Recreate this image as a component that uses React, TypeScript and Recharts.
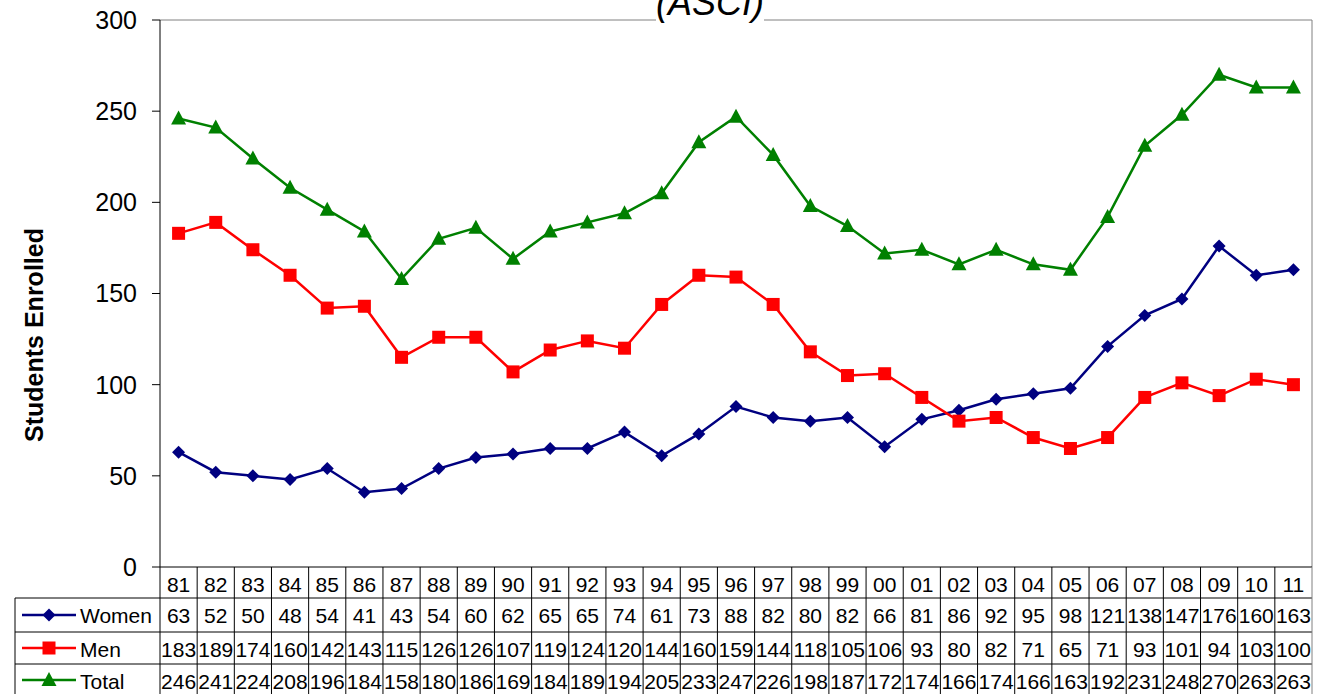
import React from 'react';
import { LineChart, Line, XAxis, YAxis, ReferenceLine } from 'recharts';

const years = ['81', '82', '83', '84', '85', '86', '87', '88', '89', '90', '91', '92', '93', '94', '95', '96', '97', '98', '99', '00', '01', '02', '03', '04', '05', '06', '07', '08', '09', '10', '11'];
const women = [63, 52, 50, 48, 54, 41, 43, 54, 60, 62, 65, 65, 74, 61, 73, 88, 82, 80, 82, 66, 81, 86, 92, 95, 98, 121, 138, 147, 176, 160, 163];
const men = [183, 189, 174, 160, 142, 143, 115, 126, 126, 107, 119, 124, 120, 144, 160, 159, 144, 118, 105, 106, 93, 80, 82, 71, 65, 71, 93, 101, 94, 103, 100];
const total = [246, 241, 224, 208, 196, 184, 158, 180, 186, 169, 184, 189, 194, 205, 233, 247, 226, 198, 187, 172, 174, 166, 174, 166, 163, 192, 231, 248, 270, 263, 263];
const yTicks = [0, 50, 100, 150, 200, 250, 300];

const W = 1325;
const H = 694;
const LEFT = 160;
const RIGHT = 13;
const TOP = 20;
const TABLE_H = 127;
const colW = (W - LEFT - RIGHT) / years.length;
const tableTop = H - TABLE_H;
const rowLines = [598, 632, 664];
const rowBase = [592, 623, 657, 689];
const rowMid = [582, 615, 648, 680];
const legendLeft = 15;
const font = '"Liberation Sans", Arial, sans-serif';

const series = [
  { key: 'women', name: 'Women', values: women, color: '#000080', shape: 'diamond' },
  { key: 'men', name: 'Men', values: men, color: '#FF0000', shape: 'square' },
  { key: 'total', name: 'Total', values: total, color: '#008000', shape: 'triangle' },
];

const data = years.map((year, i) => ({ i, year, women: women[i], men: men[i], total: total[i] }));

function Marker({ cx, cy, shape, color }: any) {
  if (cx == null || cy == null) return null;
  if (shape === 'diamond') {
    const r = 6.5;
    return <polygon points={`${cx},${cy - r} ${cx + r},${cy} ${cx},${cy + r} ${cx - r},${cy}`} fill={color} />;
  }
  if (shape === 'square') {
    return <rect x={cx - 6.5} y={cy - 6.5} width={13} height={13} fill={color} />;
  }
  return <polygon points={`${cx},${cy - 8} ${cx + 7.5},${cy + 6} ${cx - 7.5},${cy + 6}`} fill={color} />;
}

// x-axis ticks draw the data table: one column per year
function TableTick(props: any) {
  const { x, payload } = props;
  const idx = payload.value;
  const l = x - colW / 2;
  const r = x + colW / 2;
  return (
    <g fontFamily={font} fontSize={21} fill="#000">
      <text x={x} y={rowBase[0]} textAnchor="middle">{years[idx]}</text>
      {series.map((s, k) => (
        <text key={s.key} x={x} y={rowBase[k + 1]} textAnchor="middle">{s.values[idx]}</text>
      ))}
      {rowLines.map((ly) => (
        <line key={ly} x1={l} x2={r} y1={ly} y2={ly} stroke="#000" />
      ))}
      <line x1={r} x2={r} y1={tableTop} y2={H} stroke={idx === years.length - 1 ? '#808080' : '#000'} />
      {idx === 0 && (
        <g>
          <line x1={l} x2={l} y1={tableTop} y2={H} stroke="#000" />
          {rowLines.map((ly) => (
            <line key={ly} x1={legendLeft} x2={l} y1={ly} y2={ly} stroke="#000" />
          ))}
          <line x1={legendLeft} x2={legendLeft} y1={rowLines[0]} y2={H} stroke="#000" />
          {series.map((s, k) => (
            <g key={s.key}>
              <line x1={22} x2={76} y1={rowMid[k + 1]} y2={rowMid[k + 1]} stroke={s.color} strokeWidth={2.5} />
              <Marker cx={49} cy={rowMid[k + 1]} shape={s.shape} color={s.color} />
              <text x={80} y={rowBase[k + 1]} textAnchor="start">{s.name}</text>
            </g>
          ))}
        </g>
      )}
    </g>
  );
}

export default function App() {
  return (
    <div style={{ position: 'absolute', left: 0, top: 0, width: W, height: H, background: '#fff', overflow: 'hidden' }}>
      <LineChart width={W} height={H} data={data} margin={{ top: TOP, right: RIGHT, bottom: 0, left: 0 }}>
        <XAxis
          type="number"
          dataKey="i"
          domain={[-0.5, years.length - 0.5]}
          ticks={years.map((_, i) => i)}
          interval={0}
          tickLine={false}
          tickSize={0}
          axisLine={{ stroke: '#000', strokeWidth: 1 }}
          height={TABLE_H}
          tick={TableTick}
        />
        <YAxis
          domain={[0, 300]}
          ticks={yTicks}
          width={LEFT}
          tickSize={8}
          tickMargin={15}
          axisLine={{ stroke: '#000' }}
          tickLine={{ stroke: '#000' }}
          tick={{ fontFamily: font, fontSize: 25, fill: '#000' }}
          label={{
            content: () => (
              <text
                x={34}
                y={335}
                transform="rotate(-90 34 335)"
                textAnchor="middle"
                dominantBaseline="central"
                fontFamily={font}
                fontSize={25}
                fontWeight="bold"
                fill="#000"
              >
                Students Enrolled
              </text>
            ),
          }}
        />
        <ReferenceLine y={300} stroke="#808080" />
        <ReferenceLine x={years.length - 0.5} stroke="#808080" />
        {series.map((s) => (
          <Line
            key={s.key}
            type="linear"
            dataKey={s.key}
            stroke={s.color}
            strokeWidth={2.5}
            isAnimationActive={false}
            dot={(p: any) => <Marker key={`${s.key}-${p.index}`} cx={p.cx} cy={p.cy} shape={s.shape} color={s.color} />}
            activeDot={false}
          />
        ))}
      </LineChart>
      <div
        style={{
          position: 'absolute',
          left: 656,
          top: -15,
          height: 36,
          lineHeight: '36px',
          fontFamily: font,
          fontSize: 36,
          fontStyle: 'italic',
          background: '#fff',
          color: '#000',
          whiteSpace: 'nowrap',
        }}
      >
        (ASCI)
      </div>
    </div>
  );
}
